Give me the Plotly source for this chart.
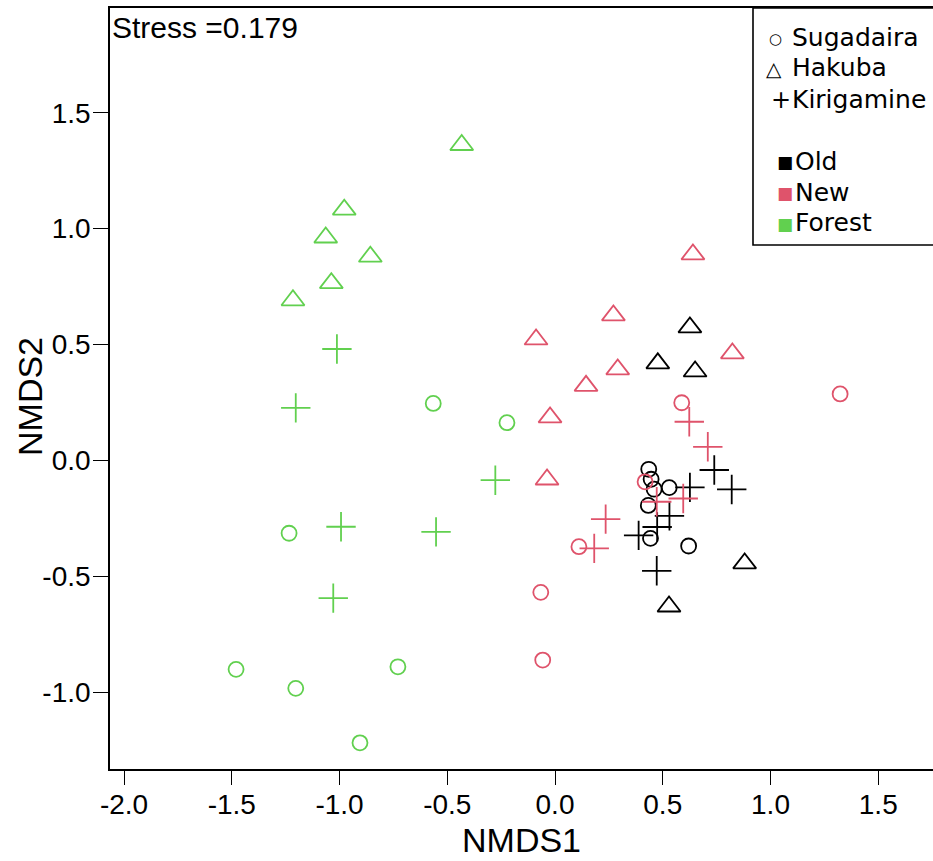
import plotly.graph_objects as go

# ---- data (NMDS1, NMDS2) ----
# Sugadaira (circles)
sug_old_x = [0.435, 0.446, 0.460, 0.530, 0.433, 0.443, 0.620]
sug_old_y = [-0.038, -0.081, -0.124, -0.117, -0.194, -0.336, -0.369]
sug_new_x = [0.588, 1.323, 0.418, 0.111, -0.066, -0.057]
sug_new_y = [0.249, 0.287, -0.092, -0.372, -0.569, -0.861]
sug_for_x = [-0.565, -0.223, -1.234, -1.480, -1.203, -0.729, -0.905]
sug_for_y = [0.246, 0.163, -0.314, -0.901, -0.983, -0.890, -1.218]

# Hakuba (triangles)
hak_old_x = [0.626, 0.477, 0.650, 0.880, 0.529]
hak_old_y = [0.574, 0.419, 0.384, -0.444, -0.630]
hak_new_x = [0.640, 0.271, -0.088, 0.823, 0.291, 0.144, -0.023, -0.037]
hak_new_y = [0.889, 0.626, 0.522, 0.462, 0.393, 0.322, 0.186, -0.082]
hak_for_x = [-0.433, -0.978, -1.064, -0.857, -1.038, -1.216]
hak_for_y = [1.361, 1.082, 0.962, 0.879, 0.765, 0.691]

# Kirigamine (crosses)
kir_old_x = [0.739, 0.820, 0.626, 0.531, 0.474, 0.388, 0.472]
kir_old_y = [-0.041, -0.125, -0.116, -0.239, -0.287, -0.323, -0.476]
kir_new_x = [0.623, 0.709, 0.472, 0.595, 0.235, 0.182]
kir_new_y = [0.167, 0.059, -0.178, -0.164, -0.253, -0.379]
kir_for_x = [-1.012, -1.203, -0.277, -0.993, -0.552, -1.029]
kir_for_y = [0.481, 0.227, -0.085, -0.286, -0.308, -0.594]

sites = ["Sugadaira", "Hakuba", "Kirigamine"]
treatments = ["Old", "New", "Forest"]
colors = {"Old": "#000000", "New": "#DF536B", "Forest": "#61D04F"}
symbols = {"Sugadaira": "circle-open", "Hakuba": "triangle-up-open",
           "Kirigamine": "cross-thin-open"}
sizes = {"Sugadaira": 15, "Hakuba": 20, "Kirigamine": 21}

groups = [
    ("Sugadaira", "Old", sug_old_x, sug_old_y),
    ("Sugadaira", "New", sug_new_x, sug_new_y),
    ("Sugadaira", "Forest", sug_for_x, sug_for_y),
    ("Hakuba", "Old", hak_old_x, hak_old_y),
    ("Hakuba", "New", hak_new_x, hak_new_y),
    ("Hakuba", "Forest", hak_for_x, hak_for_y),
    ("Kirigamine", "Old", kir_old_x, kir_old_y),
    ("Kirigamine", "New", kir_new_x, kir_new_y),
    ("Kirigamine", "Forest", kir_for_x, kir_for_y),
]

stress_text = "Stress =0.179"
x_ticks = [-2.0, -1.5, -1.0, -0.5, 0.0, 0.5, 1.0, 1.5]
y_ticks = [-1.0, -0.5, 0.0, 0.5, 1.0, 1.5]

W, H = 933, 861
L, R, T, B = 110, 933, 8, 769

fig = go.Figure()
for site, trt, xs, ys in groups:
    fig.add_trace(go.Scatter(
        x=xs, y=ys, mode="markers", name=f"{site} {trt}", showlegend=False,
        marker=dict(symbol=symbols[site], size=sizes[site],
                    color=colors[trt],
                    line=dict(color=colors[trt], width=1.8)),
    ))

axis_font = dict(family="Liberation Sans, Arial, sans-serif", size=28, color="black")

fig.update_layout(
    width=W, height=H,
    margin=dict(l=L, r=W - R, t=T, b=H - B, pad=0),
    paper_bgcolor="white", plot_bgcolor="white",
    xaxis=dict(range=[-2.065, 1.754], tickvals=x_ticks,
               ticktext=[f"{v:.1f}" for v in x_ticks],
               showgrid=False, zeroline=False, showline=True, mirror=True,
               linecolor="black", linewidth=1.6, ticks="outside", ticklen=14,
               tickwidth=1.4, tickcolor="black", tickfont=axis_font,
               ticklabelstandoff=-4),
    yaxis=dict(range=[-1.331, 1.952], tickvals=y_ticks,
               ticktext=[f"{v:.1f}" for v in y_ticks],
               showgrid=False, zeroline=False, showline=True, mirror=False,
               linecolor="black", linewidth=1.6, ticks="outside", ticklen=15,
               tickwidth=1.4, tickcolor="black", tickfont=axis_font,
               ticklabelstandoff=-3),
    font=axis_font,
)

def px(xp):
    return (xp - L) / (R - L)

def py(yp):
    return (B - yp) / (B - T)

title_font = dict(family="Liberation Sans, Arial, sans-serif", size=34, color="black")
fig.add_annotation(text="NMDS1", xref="paper", yref="paper", x=px(521), y=py(840),
                   showarrow=False, font=title_font, xanchor="center", yanchor="middle",
                   borderpad=0)
fig.add_annotation(text="NMDS2", xref="paper", yref="paper", x=px(30), y=py(397),
                   showarrow=False, font=title_font, textangle=-90,
                   xanchor="center", yanchor="middle", borderpad=0)
fig.add_annotation(text=stress_text, xref="paper", yref="paper", x=px(111), y=py(28),
                   showarrow=False, xanchor="left", yanchor="middle", borderpad=0,
                   font=dict(family="Liberation Sans, Arial, sans-serif", size=30, color="black"))

# legend box
fig.add_shape(type="rect", xref="paper", yref="paper",
              x0=px(753), x1=px(960), y0=py(245), y1=py(8),
              line=dict(color="black", width=1.6), fillcolor="white", layer="above")

leg_font = dict(family="DejaVu Sans, Noto Sans, sans-serif", size=25, color="black")
sym_glyph = {"Sugadaira": "○", "Hakuba": "△", "Kirigamine": "+"}
sym_size = {"Sugadaira": 15, "Hakuba": 20, "Kirigamine": 24}
sym_x = {"Sugadaira": 775, "Hakuba": 774, "Kirigamine": 781}
row_y_sites = [38, 68, 99]
for site, yp in zip(sites, row_y_sites):
    fig.add_annotation(text=sym_glyph[site], xref="paper", yref="paper",
                       x=px(sym_x[site]), y=py(yp + 1), showarrow=False,
                       xanchor="center", yanchor="middle", borderpad=0,
                       font=dict(family="DejaVu Sans", size=sym_size[site], color="black"))
    fig.add_annotation(text=site, xref="paper", yref="paper", x=px(791), y=py(yp),
                       showarrow=False, xanchor="left", yanchor="middle", borderpad=0,
                       font=leg_font)

row_y_trt = [161, 192, 223]
for trt, yp in zip(treatments, row_y_trt):
    fig.add_annotation(text="■", xref="paper", yref="paper", x=px(785), y=py(yp + 1),
                       showarrow=False, xanchor="center", yanchor="middle", borderpad=0,
                       font=dict(family="DejaVu Sans", size=17, color=colors[trt]))
    fig.add_annotation(text=trt, xref="paper", yref="paper", x=px(794), y=py(yp),
                       showarrow=False, xanchor="left", yanchor="middle", borderpad=0,
                       font=leg_font)

fig.write_html("out.html")
